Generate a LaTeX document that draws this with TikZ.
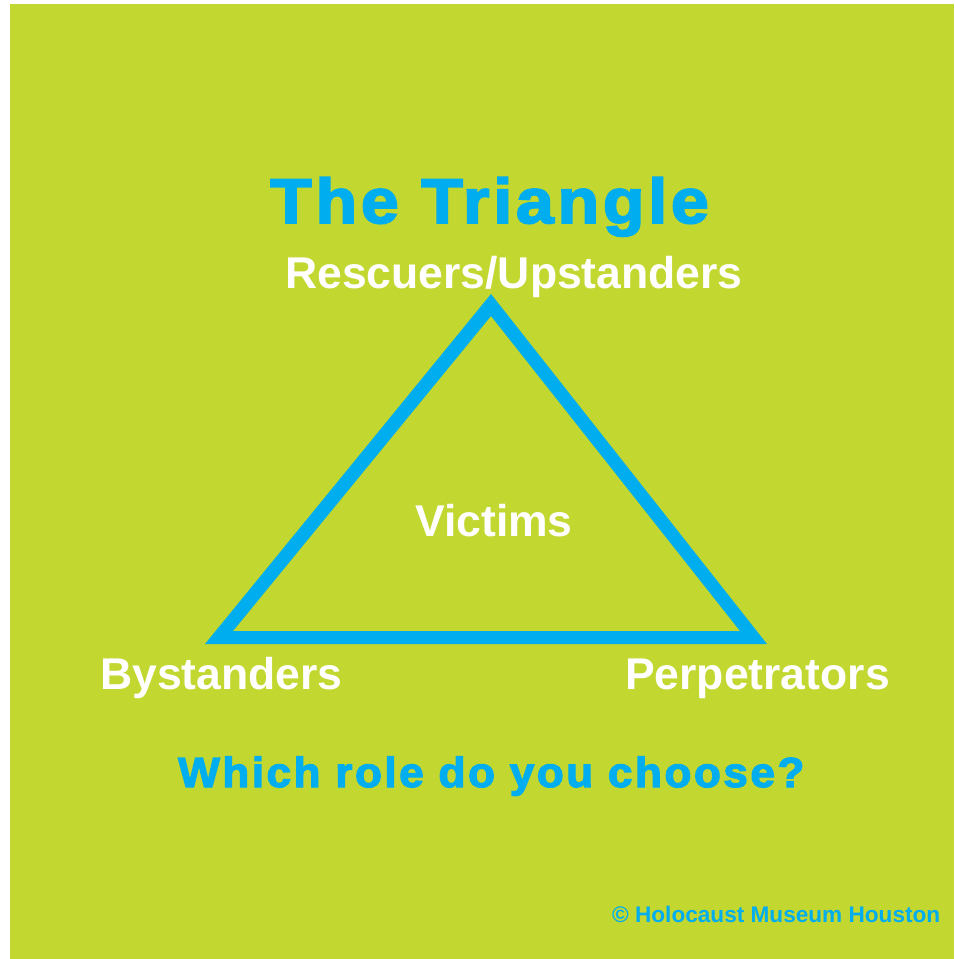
\documentclass[tikz,border=0pt]{standalone}
\usepackage{fontspec}
\setmainfont{Liberation Sans}
\newfontfamily\labelfont{Liberation Sans}[BoldFont={* Bold}]
\newfontfamily\headfont{Liberation Sans Bold}[FakeBold=3,FakeStretch=1.08,LetterSpace=6]
\newfontfamily\askfont{Liberation Sans Bold}[FakeBold=3,FakeStretch=1.05,LetterSpace=6]
\definecolor{bggreen}{RGB}{194,215,47}
\definecolor{hmhblue}{RGB}{0,174,239}
\tikzset{
  rolelabel/.style={inner sep=0pt, anchor=base west, text=white, font=\labelfont\bfseries\fontsize{44.5}{44.5}\selectfont},
  headline/.style={inner sep=0pt, anchor=base west, text=hmhblue, font=\headfont\fontsize{63}{63}\selectfont},
  question/.style={inner sep=0pt, anchor=base west, text=hmhblue, font=\askfont\fontsize{42}{42}\selectfont},
  credit/.style={inner sep=0pt, anchor=base west, text=hmhblue, font=\labelfont\bfseries\fontsize{22.6}{22.6}\selectfont},
}
\begin{document}
\begin{tikzpicture}[x=1pt,y=-1pt]
\useasboundingbox (0,0) rectangle (954,959);
\fill[white] (0,0) rectangle (954,959);
\fill[bggreen] (10,4) rectangle (954,959);
% triangle frame
\fill[hmhblue, even odd rule] (205,644) -- (767,644) -- (491,294) -- cycle
  (233,631) -- (740,631) -- (491,316) -- cycle;
\node[headline] (title) at (270,223) {The Triangle};
\node[rolelabel] (rescuers) at (285,288) {Rescuers/Upstanders};
\node[rolelabel] (victims) at (415,536) {Victims};
\node[rolelabel] (bystanders) at (100,689) {Bystanders};
\node[rolelabel] (perpetrators) at (625,689) {Perpetrators};
\node[question] (question) at (178,787) {Which role do you choose?};
\node[credit] (credit) at (612,922) {© Holocaust Museum Houston};
\end{tikzpicture}
\end{document}
